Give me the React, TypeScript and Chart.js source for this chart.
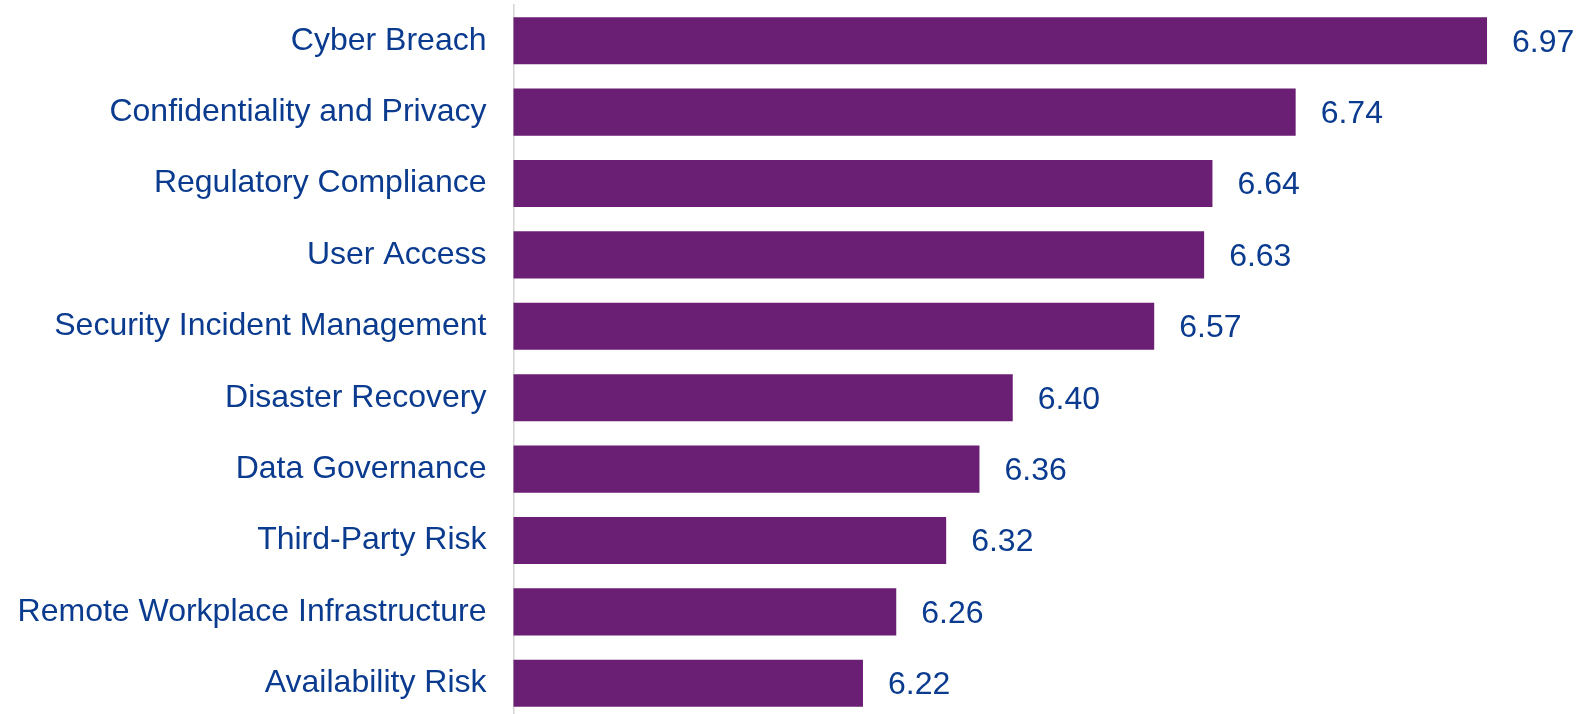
import React, { useEffect, useRef } from "react";
import { Chart, registerables } from "chart.js";

Chart.register(...registerables);

const categories: string[] = [
  "Cyber Breach",
  "Confidentiality and Privacy",
  "Regulatory Compliance",
  "User Access",
  "Security Incident Management",
  "Disaster Recovery",
  "Data Governance",
  "Third-Party Risk",
  "Remote Workplace Infrastructure",
  "Availability Risk",
];

const scores: number[] = [6.97, 6.74, 6.64, 6.63, 6.57, 6.4, 6.36, 6.32, 6.26, 6.22];

const axisMin = 5.8;
const axisMax = 7.0;

const BAR_COLOR = "#6b1f74";
const TEXT_COLOR = "#0b3b8f";
const FONT_FAMILY = "'Liberation Sans', Arial, sans-serif";

const valueLabels = {
  id: "valueLabels",
  afterDatasetsDraw(chart: any) {
    const ctx = chart.ctx;
    const meta = chart.getDatasetMeta(0);
    ctx.save();
    ctx.fillStyle = TEXT_COLOR;
    ctx.font = `32px ${FONT_FAMILY}`;
    ctx.textAlign = "left";
    ctx.textBaseline = "middle";
    meta.data.forEach((bar: any, i: number) => {
      const v = chart.data.datasets[0].data[i] as number;
      ctx.fillText(v.toFixed(2), bar.x + 25, bar.y + 2);
    });
    ctx.restore();
  },
};

export default function App() {
  const canvasRef = useRef<HTMLCanvasElement | null>(null);

  useEffect(() => {
    if (!canvasRef.current) return;
    const chart = new Chart(canvasRef.current, {
      type: "bar",
      data: {
        labels: categories,
        datasets: [
          {
            data: scores,
            backgroundColor: BAR_COLOR,
            borderWidth: 0,
            barPercentage: 0.66,
            categoryPercentage: 1,
          },
        ],
      },
      options: {
        indexAxis: "y",
        responsive: false,
        animation: false,
        devicePixelRatio: 1,
        layout: { padding: { top: 5, right: 69, bottom: 0, left: 0 } },
        plugins: {
          legend: { display: false },
          tooltip: { enabled: false },
        },
        scales: {
          x: {
            display: false,
            min: axisMin,
            max: axisMax,
          },
          y: {
            grid: { display: false, drawTicks: false },
            border: { display: true, color: "#d6d6d6", width: 1.5 },
            ticks: {
              color: TEXT_COLOR,
              padding: 27,
              font: { family: FONT_FAMILY, size: 32 },
            },
            afterFit(scale: any) {
              scale.width = 513.5;
              scale.paddingTop = 0;
              scale.paddingBottom = 0;
            },
          },
        },
      },
      plugins: [valueLabels],
    });
    return () => chart.destroy();
  }, []);

  return (
    <div
      style={{
        position: "fixed",
        left: 0,
        top: 0,
        width: 1581,
        height: 719,
        background: "#ffffff",
      }}
    >
      <canvas ref={canvasRef} width={1581} height={719} />
    </div>
  );
}
